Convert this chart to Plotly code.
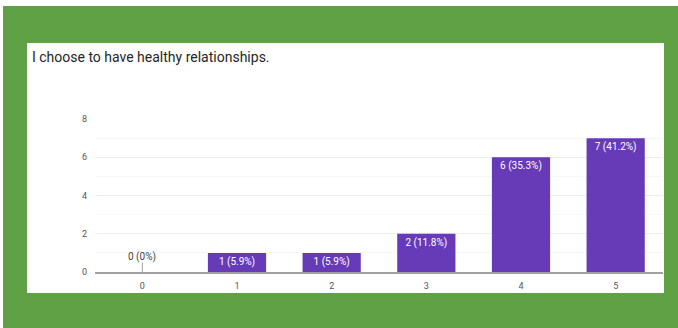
import plotly.graph_objects as go

# Survey responses: rating scale and number of respondents per rating
categories = ["0", "1", "2", "3", "4", "5"]
counts = [0, 1, 1, 2, 6, 7]
y_ticks = [0, 2, 4, 6, 8]
title_text = "I choose to have healthy relationships."

total = sum(counts)
labels = []
for c in counts:
    pct = c / total * 100
    labels.append(f"{c} (0%)" if c == 0 else f"{c} ({pct:.1f}%)")

W, H = 678, 328
L, R, T, B = 95, 663, 119, 272  # plot area in pixels


def px_x(px):
    return (px - L) / (R - L)


def px_y(py):
    return (B - py) / (B - T)


GREEN = "#60a146"
PURPLE = "#673ab7"

fig = go.Figure()
fig.add_trace(go.Bar(
    x=categories,
    y=counts,
    marker=dict(color=PURPLE, line=dict(width=0)),
    text=[lab if c > 0 else "" for lab, c in zip(labels, counts)],
    textposition="inside",
    insidetextanchor="end",
    textangle=0,
    textfont=dict(family="Roboto", size=10, color="white"),
    cliponaxis=False,
    hoverinfo="skip",
))

shapes = [
    # green frame
    dict(type="rect", xref="paper", yref="paper",
         x0=px_x(3), x1=px_x(W + 2), y0=px_y(H + 2), y1=px_y(6),
         fillcolor=GREEN, line=dict(width=0), layer="below"),
    # white card
    dict(type="rect", xref="paper", yref="paper",
         x0=px_x(27), x1=px_x(664), y0=px_y(293), y1=px_y(43),
         fillcolor="white", line=dict(width=0), layer="below"),
]

annotations = [
    dict(text=title_text, xref="paper", yref="paper",
         x=px_x(30), y=px_y(57), xanchor="left", yanchor="middle",
         showarrow=False, font=dict(family="Roboto", size=14, color="#262626")),
]

# zero-count categories: thin stub and label just above the baseline
for cat, c, lab in zip(categories, counts, labels):
    if c == 0:
        shapes.append(dict(type="line", xref="x", yref="y",
                           x0=cat, x1=cat, y0=0, y1=0.5,
                           line=dict(color="#9e9e9e", width=1)))
        annotations.append(dict(text=lab, x=cat, y=c, xref="x", yref="y",
                                yanchor="bottom", yshift=7, showarrow=False,
                                font=dict(family="Roboto", size=10, color="#444444")))

fig.update_layout(
    width=W, height=H,
    margin=dict(l=L, r=W - R, t=T, b=H - B, pad=0),
    paper_bgcolor="white",
    plot_bgcolor="white",
    bargap=0.385,
    showlegend=False,
    shapes=shapes,
    annotations=annotations,
    xaxis=dict(
        type="category",
        showgrid=False,
        showline=True, linecolor="#a0a0a0", linewidth=2,
        ticks="", tickfont=dict(family="Roboto", size=9, color="#555555"),
        ticklabelstandoff=4,
        fixedrange=True,
    ),
    yaxis=dict(
        range=[0, 8],
        tickvals=y_ticks,
        showgrid=True, gridcolor="#ededed", gridwidth=1,
        minor=dict(dtick=1, tick0=0, showgrid=True, gridcolor="#f7f7f7", gridwidth=1),
        zeroline=False,
        showline=False,
        ticks="", tickfont=dict(family="Roboto", size=9, color="#555555"),
        ticklabelstandoff=7,
        fixedrange=True,
    ),
)

fig.write_html("out.html", config={"displayModeBar": False})
